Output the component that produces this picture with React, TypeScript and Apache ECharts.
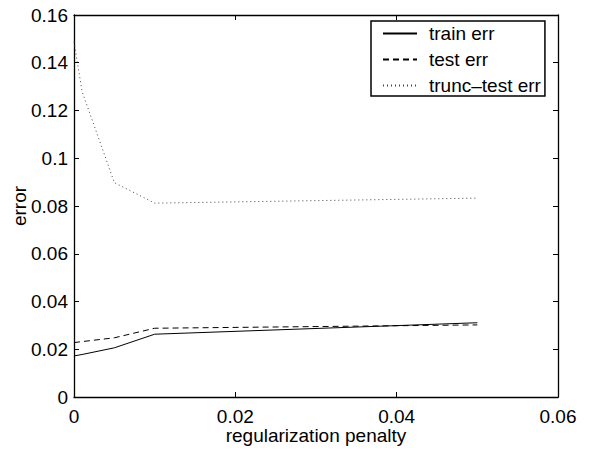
import React, { useEffect, useRef } from "react";
import * as echarts from "echarts";

const penalty = [0, 0.001, 0.005, 0.01, 0.05];
const trainErr = [0.0172, 0.0178, 0.0206, 0.0263, 0.0311];
const testErr = [0.0228, 0.0232, 0.0248, 0.0288, 0.0302];
const truncTestErr = [0.1488, 0.128, 0.0898, 0.0812, 0.0833];
const seriesNames = ["train err", "test err", "trunc\u2013test err"];

const FONT = "Liberation Sans, Arial, Helvetica, sans-serif";
const FS = 19;

function pairs(ys: number[]) {
  return penalty.map((x, i) => [x, ys[i]]);
}

export default function App() {
  const ref = useRef<HTMLDivElement>(null);
  useEffect(() => {
    if (!ref.current) return;
    const chart = echarts.init(ref.current, undefined, { renderer: "svg" });
    const axisLine = { show: true, onZero: false, lineStyle: { color: "#000", width: 1.3 } };
    const tick = { show: true, inside: true, length: 5, lineStyle: { color: "#000", width: 1 } };
    chart.setOption({
      animation: false,
      backgroundColor: "#fff",
      textStyle: { fontFamily: FONT },
      grid: {
        left: 74,
        right: 31,
        top: 15,
        bottom: 53,
        containLabel: false,
        outerBoundsMode: "none",
      },
      legend: {
        left: 371,
        top: 21,
        orient: "vertical",
        width: 186,
        height: 75,
        padding: [3, 4, 1, 11],
        itemGap: 7,
        itemWidth: 34,
        itemHeight: 19,
        borderColor: "#000",
        borderWidth: 1.5,
        backgroundColor: "#fff",
        itemStyle: { opacity: 0 },
        data: seriesNames,
        textStyle: { fontSize: FS, color: "#000", fontFamily: FONT, padding: [0, 0, 0, 7] },
      },
      xAxis: [
        {
          type: "value",
          min: 0,
          max: 0.06,
          interval: 0.02,
          position: "bottom",
          name: "regularization penalty",
          nameLocation: "middle",
          nameGap: 29,
          nameMoveOverlap: false,
          nameTextStyle: { fontSize: FS, color: "#000", fontFamily: FONT },
          axisLine,
          axisTick: tick,
          splitLine: { show: false },
          axisLabel: { fontSize: FS, color: "#000", margin: 10, fontFamily: FONT },
        },
        {
          type: "value",
          min: 0,
          max: 0.06,
          interval: 0.02,
          position: "top",
          axisLine,
          axisTick: tick,
          splitLine: { show: false },
          axisLabel: { show: false },
        },
      ],
      yAxis: [
        {
          type: "value",
          min: 0,
          max: 0.16,
          interval: 0.02,
          position: "left",
          name: "error",
          nameLocation: "middle",
          nameGap: 45,
          nameMoveOverlap: false,
          nameTextStyle: { fontSize: FS, color: "#000", fontFamily: FONT },
          axisLine,
          axisTick: tick,
          splitLine: { show: false },
          axisLabel: { fontSize: FS, color: "#000", margin: 6, fontFamily: FONT },
        },
        {
          type: "value",
          min: 0,
          max: 0.16,
          interval: 0.02,
          position: "right",
          axisLine,
          axisTick: tick,
          splitLine: { show: false },
          axisLabel: { show: false },
        },
      ],
      series: [
        {
          name: seriesNames[0],
          type: "line",
          symbol: "none",
          data: pairs(trainErr),
          lineStyle: { color: "#000", width: 1, type: "solid" },
          itemStyle: { color: "#000" },
        },
        {
          name: seriesNames[1],
          type: "line",
          symbol: "none",
          data: pairs(testErr),
          lineStyle: { color: "#000", width: 1, type: [6, 4] },
          itemStyle: { color: "#000" },
        },
        {
          name: seriesNames[2],
          type: "line",
          symbol: "none",
          data: pairs(truncTestErr),
          lineStyle: { color: "#444", width: 1, type: [1, 3] },
          itemStyle: { color: "#444" },
        },
      ],
    });
    return () => chart.dispose();
  }, []);
  return (
    <div
      ref={ref}
      style={{ position: "fixed", left: 0, top: 0, width: 589, height: 450, background: "#fff" }}
    />
  );
}
